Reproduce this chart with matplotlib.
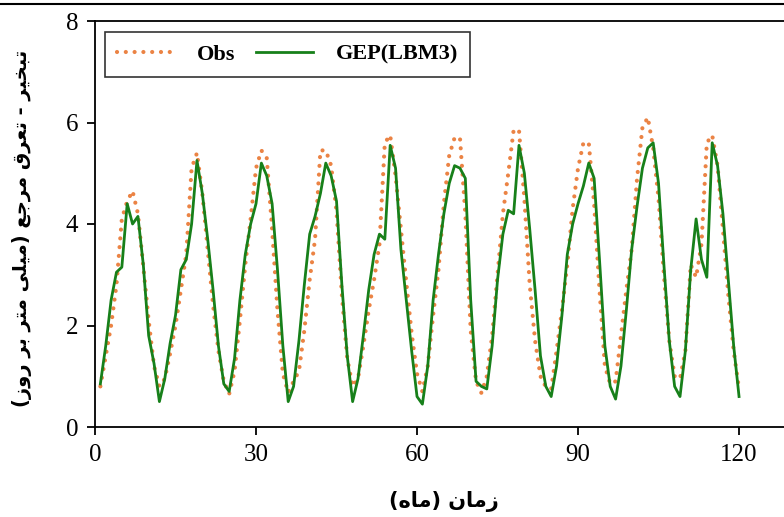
import matplotlib
matplotlib.use("Agg")
import matplotlib.pyplot as plt
from matplotlib.lines import Line2D
import numpy as np

# monthly values (months 1..120)
months = np.arange(1, 121)

obs = [0.80, 1.40, 2.00, 2.80, 4.10, 4.45, 4.65, 4.20, 3.16, 2.10, 1.20, 0.80,
       0.95, 1.45, 2.00, 2.70, 3.40, 5.10, 5.40, 4.60, 3.50, 2.40, 1.50, 0.90,
       0.65, 1.10, 2.10, 3.20, 4.10, 5.10, 5.45, 5.30, 3.90, 2.30, 1.05, 0.68,
       0.90, 1.10, 1.90, 2.90, 3.70, 5.45, 5.45, 5.15, 4.25, 2.60, 1.35, 0.80,
       0.95, 1.60, 2.30, 2.90, 3.60, 5.60, 5.75, 4.95, 3.90, 2.85, 1.85, 1.05,
       0.70, 1.20, 2.20, 3.10, 4.40, 5.35, 5.70, 5.70, 4.20, 1.90, 0.90, 0.67,
       1.00, 1.80, 3.00, 4.20, 5.00, 5.85, 5.85, 4.50, 2.80, 1.70, 1.00, 0.79,
       0.75, 1.50, 2.30, 3.20, 4.30, 5.10, 5.60, 5.60, 4.40, 2.70, 1.20, 0.85,
       0.90, 1.80, 2.70, 3.50, 4.90, 5.90, 6.10, 5.50, 4.50, 3.00, 1.70, 1.00,
       0.95, 1.50, 3.20, 2.95, 3.60, 5.60, 5.75, 5.15, 3.90, 2.60, 1.50, 0.75]

gep = [0.85, 1.60, 2.50, 3.05, 3.15, 4.40, 4.00, 4.15, 3.20, 1.80, 1.25, 0.50,
       0.95, 1.65, 2.20, 3.10, 3.30, 4.00, 5.25, 4.60, 3.70, 2.70, 1.60, 0.85,
       0.70, 1.35, 2.50, 3.40, 4.00, 4.40, 5.20, 4.95, 4.40, 3.10, 1.60, 0.50,
       0.80, 1.70, 2.80, 3.80, 4.15, 4.60, 5.20, 4.95, 4.45, 2.80, 1.40, 0.50,
       0.95, 1.80, 2.70, 3.40, 3.80, 3.70, 5.55, 5.10, 3.50, 2.50, 1.50, 0.60,
       0.45, 1.20, 2.50, 3.40, 4.20, 4.80, 5.15, 5.10, 4.90, 2.50, 0.90, 0.80,
       0.75, 1.60, 2.90, 3.80, 4.27, 4.20, 5.55, 5.00, 3.90, 2.70, 1.40, 0.80,
       0.60, 1.20, 2.20, 3.40, 4.00, 4.40, 4.75, 5.20, 4.90, 3.30, 1.60, 0.80,
       0.55, 1.20, 2.30, 3.50, 4.35, 5.10, 5.50, 5.60, 4.80, 3.20, 1.70, 0.80,
       0.60, 1.50, 3.10, 4.10, 3.30, 2.95, 5.60, 5.15, 4.20, 2.90, 1.60, 0.60]

x_ticks = [0, 30, 60, 90, 120]
y_ticks = [0, 2, 4, 6, 8]

x_label = "زمان (ماه)"
y_label = "تبخیر - تعرق مرجع (میلی متر بر روز)"

# matplotlib has no arabic shaping, so pick the joined glyph forms by hand
FORMS = {  # isolated, final, initial, medial
    "ا": (0xFE8D, 0xFE8E, None, None),
    "ب": (0xFE8F, 0xFE90, 0xFE91, 0xFE92),
    "ت": (0xFE95, 0xFE96, 0xFE97, 0xFE98),
    "ج": (0xFE9D, 0xFE9E, 0xFE9F, 0xFEA0),
    "خ": (0xFEA5, 0xFEA6, 0xFEA7, 0xFEA8),
    "ر": (0xFEAD, 0xFEAE, None, None),
    "ز": (0xFEAF, 0xFEB0, None, None),
    "ع": (0xFEC9, 0xFECA, 0xFECB, 0xFECC),
    "ق": (0xFED5, 0xFED6, 0xFED7, 0xFED8),
    "ل": (0xFEDD, 0xFEDE, 0xFEDF, 0xFEE0),
    "م": (0xFEE1, 0xFEE2, 0xFEE3, 0xFEE4),
    "ن": (0xFEE5, 0xFEE6, 0xFEE7, 0xFEE8),
    "ه": (0xFEE9, 0xFEEA, 0xFEEB, 0xFEEC),
    "و": (0xFEED, 0xFEEE, None, None),
    "ی": (0xFEEF, 0xFEF0, 0xFEF3, 0xFEF4),
}


def shape(s):
    out = []
    for i, ch in enumerate(s):
        if ch not in FORMS:
            out.append(ch)
            continue
        iso, fin, ini, med = FORMS[ch]
        prev = s[i - 1] if i > 0 else ""
        nxt = s[i + 1] if i < len(s) - 1 else ""
        join_prev = prev in FORMS and FORMS[prev][2] is not None
        join_next = nxt in FORMS and ini is not None
        if join_prev and join_next:
            code = med
        elif join_prev:
            code = fin
        elif join_next:
            code = ini
        else:
            code = iso
        out.append(chr(code))
    vis = "".join(out)[::-1]
    return vis.translate(str.maketrans("()", ")("))


W, H = 784, 517
fig = plt.figure(figsize=(W / 100, H / 100), dpi=100)
ax = fig.add_axes([95 / W, (H - 427) / H, (W - 95) / W, (427 - 21) / H])

orange = "#EB8344"
green = "#17801A"

ax.plot(months, obs, color=orange, lw=3.0, linestyle=(0, (0.01, 2.1)),
        dash_capstyle="round", label="Obs", zorder=2)
ax.plot(months, gep, color=green, lw=2.0, label="GEP(LBM3)", zorder=3)

ax.set_xlim(0, (W - 95) / 5.367)
ax.set_ylim(0, 8)
ax.set_xticks(x_ticks)
ax.set_yticks(y_ticks)
ax.spines["right"].set_visible(False)
for sp in ["left", "bottom", "top"]:
    ax.spines[sp].set_linewidth(1.3)
ax.tick_params(direction="out", length=6, width=1.3, labelsize=18, pad=6)
for lab in ax.get_xticklabels() + ax.get_yticklabels():
    lab.set_family("Liberation Serif")

fig.text(444 / W, 1 - 502 / H, shape(x_label), ha="center", va="center",
         fontsize=15, fontweight="bold", family="DejaVu Sans")
fig.text(22 / W, 1 - 228 / H, shape(y_label), ha="center", va="center",
         rotation=90, fontsize=14, fontweight="bold", family="DejaVu Sans")

leg = ax.legend(loc="upper left", bbox_to_anchor=(105 / W, 1 - 32 / H),
                bbox_transform=fig.transFigure, ncol=2, frameon=True,
                fancybox=False, borderaxespad=0, borderpad=0.55,
                handlelength=2.6, handletextpad=1.0, columnspacing=0.9,
                prop={"family": "Liberation Serif", "weight": "bold", "size": 16})
leg.get_frame().set_edgecolor("black")
leg.get_frame().set_linewidth(1.2)

# thin frame line along the top of the picture
fig.add_artist(Line2D([0, 1], [1 - 4 / H, 1 - 4 / H], transform=fig.transFigure,
                      color="black", lw=1.5))

fig.savefig("out.png", dpi=100)
